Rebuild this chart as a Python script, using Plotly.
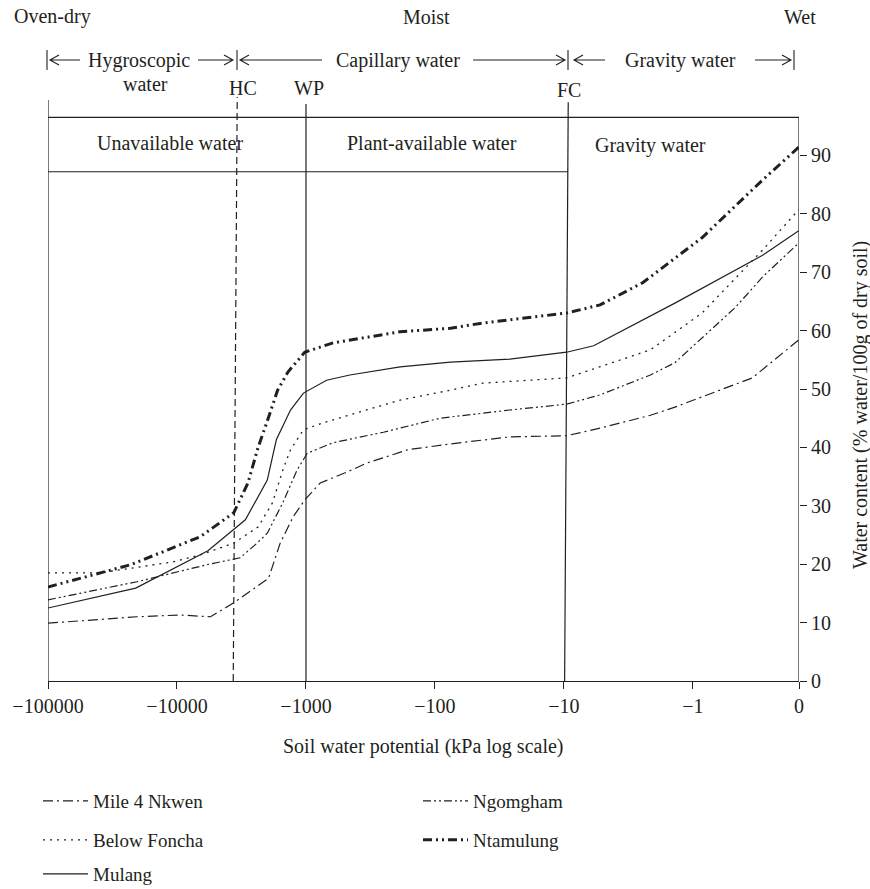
import plotly.graph_objects as go

# ---------------- data ----------------
# x positions are measured along the potential axis in decades:
# 0 = -100000 kPa, 1 = -10000, 2 = -1000, 3 = -100, 4 = -10, 5 = -1, 5.822 = 0
tick_pos = [0, 1, 2, 3, 4, 5, 5.822]
tick_text = ["−100000", "−10000", "−1000", "−100", "−10", "−1", "0"]
y_ticks = [0, 10, 20, 30, 40, 50, 60, 70, 80, 90]

mile4_x = [0, 0.69, 1.02, 1.26, 1.44, 1.71, 1.80, 1.90, 1.99, 2.11, 2.32, 2.47, 2.79, 3.12, 3.58, 4.02, 4.28, 4.67, 4.86, 5.46, 5.82]
mile4_y = [9.9, 11.0, 11.3, 11.0, 13.4, 17.6, 23.6, 28.1, 31.0, 33.9, 35.8, 37.3, 39.6, 40.6, 41.8, 42.0, 43.3, 45.5, 46.9, 51.9, 58.4]

ngom_x = [0, 0.69, 1.23, 1.49, 1.62, 1.70, 1.82, 1.93, 2.01, 2.21, 2.60, 3.04, 3.58, 4.02, 4.28, 4.67, 4.86, 5.33, 5.54, 5.82]
ngom_y = [13.9, 17.0, 19.9, 21.1, 23.6, 25.3, 30.5, 36.1, 39.0, 40.8, 42.6, 45.0, 46.4, 47.4, 49.0, 52.4, 54.5, 64.0, 69.2, 75.0]

foncha_x = [0, 0.40, 0.97, 1.18, 1.44, 1.63, 1.74, 1.82, 1.88, 1.98, 2.13, 2.47, 2.73, 3.12, 3.37, 4.02, 4.28, 4.67, 5.07, 5.54, 5.82]
foncha_y = [18.5, 18.5, 20.4, 21.6, 23.6, 26.4, 30.5, 36.1, 39.6, 43.0, 44.2, 46.4, 48.1, 49.8, 51.0, 51.9, 53.8, 56.7, 63.0, 73.8, 80.7]

ntam_x = [0, 0.64, 1.18, 1.44, 1.55, 1.63, 1.70, 1.78, 1.86, 1.99, 2.21, 2.47, 2.73, 3.12, 3.37, 4.02, 4.28, 4.61, 5.07, 5.54, 5.82]
ntam_y = [16.1, 19.9, 24.7, 28.8, 33.9, 40.1, 44.5, 49.8, 52.9, 56.3, 57.9, 58.9, 59.8, 60.4, 61.3, 63.0, 64.4, 68.2, 75.9, 85.8, 91.4]

mulang_x = [0, 0.68, 1.24, 1.53, 1.70, 1.77, 1.88, 1.98, 2.16, 2.34, 2.73, 3.12, 3.58, 4.02, 4.23, 4.86, 5.54, 5.82]
mulang_y = [12.5, 15.9, 22.3, 27.6, 34.4, 41.3, 46.4, 49.3, 51.5, 52.4, 53.8, 54.6, 55.1, 56.3, 57.4, 64.7, 72.9, 77.1]

# reference lines (x positions in the same decade units)
hc_x = (1.436, 1.467)
wp_x = 2.0
fc_x = (4.005, 4.033)

# ---------------- layout helpers ----------------
W, H = 870, 889
L, R, T, B = 48, 71, 97, 208
XMAX, YMAX = 5.822, 100
PW, PH = W - L - R, H - T - B
INK = "#231f20"
FONT = "Liberation Serif"


def px2p(px):
    return (px - L) / PW


def py2p(py):
    return (H - B - py) / PH


series = [
    ("Mile 4 Nkwen", mile4_x, mile4_y, dict(width=1.2, dash="10px,4px,2px,4px"), "legend", 38, 801),
    ("Ngomgham", ngom_x, ngom_y, dict(width=1.2, dash="8px,3px,2px,3px,2px,3px"), "legend2", 418, 801),
    ("Below Foncha", foncha_x, foncha_y, dict(width=1.3, dash="2px,5px"), "legend3", 38, 840),
    ("Ntamulung", ntam_x, ntam_y, dict(width=3, dash="9px,4px,2px,4px,2px,4px"), "legend4", 418, 840),
    ("Mulang", mulang_x, mulang_y, dict(width=1.2, dash="solid"), "legend5", 38, 874),
]

fig = go.Figure()
legends = {}
for name, xs, ys, ln, lg, lx, ly in series:
    fig.add_trace(go.Scatter(x=xs, y=ys, mode="lines", name=name,
                             line=dict(color=INK, **ln), legend=lg))
    legends[lg] = dict(x=px2p(lx), y=py2p(ly), xanchor="left", yanchor="middle",
                       bgcolor="rgba(0,0,0,0)", itemwidth=45,
                       font=dict(family=FONT, size=19, color=INK))

line = dict(color=INK, width=1.2)
shapes = [
    # left border and reference vertical lines
    dict(type="line", xref="x", yref="y", x0=0, x1=0, y0=0, y1=99.5, line=line),
    dict(type="line", xref="x", yref="y", x0=hc_x[0], x1=hc_x[1], y0=0, y1=100,
         line=dict(color=INK, width=1.2, dash="7px,4px")),
    dict(type="line", xref="x", yref="y", x0=wp_x, x1=wp_x, y0=0, y1=98.8, line=line),
    dict(type="line", xref="x", yref="y", x0=fc_x[0], x1=fc_x[1], y0=0, y1=99.1, line=line),
    dict(type="line", xref="x", yref="y", x0=XMAX, x1=XMAX, y0=0, y1=96.5, line=line),
    # box lines
    dict(type="line", xref="x", yref="y", x0=0, x1=XMAX, y0=96.5, y1=96.5, line=line),
    dict(type="line", xref="x", yref="y", x0=0, x1=fc_x[1], y0=87.2, y1=87.2, line=line),
]

# row of arrows above the chart (pixel paths anchored on the plot's left edge)
row_py = 60
arrows = [(80, 50), (198, 233), (322, 240), (473, 565), (605, 574), (755, 791)]
bars = [47, 237, 568, 794]
path = ""
for t, h in arrows:
    d = 1 if h > t else -1
    a, b = t - L, h - L
    path += f"M{a},0 L{b},0 M{b - d * 9},5 L{b},0 L{b - d * 9},-5 "
for bx in bars:
    path += f"M{bx - L},-10 L{bx - L},10 "
shapes.append(dict(type="path", path=path.strip(), xref="paper", yref="paper",
                   xsizemode="pixel", ysizemode="pixel", xanchor=0, yanchor=py2p(row_py),
                   line=dict(color=INK, width=1.1), fillcolor="rgba(0,0,0,0)"))

texts = [
    ("Oven-dry", 52, 17), ("Moist", 426, 17), ("Wet", 800, 17),
    ("Hygroscopic", 139, row_py), ("water", 145, 84),
    ("Capillary water", 398, row_py), ("Gravity water", 680, row_py),
    ("HC", 243, 88), ("WP", 309, 88), ("FC", 569, 90),
    ("Unavailable water", 170, 143), ("Plant-available water", 432, 143),
    ("Gravity water", 650, 145),
    ("Soil water potential (kPa log scale)", 423, 747),
]
annotations = [dict(text=t, x=px2p(x), y=py2p(y), xref="paper", yref="paper",
                    xanchor="center", yanchor="middle", showarrow=False,
                    font=dict(family=FONT, size=20, color=INK)) for t, x, y in texts]
annotations.append(dict(text="Water content (% water/100g of dry soil)", x=px2p(860), y=py2p(405),
                        xref="paper", yref="paper", xanchor="center", yanchor="middle",
                        textangle=-90, showarrow=False,
                        font=dict(family=FONT, size=20, color=INK)))

fig.update_layout(
    width=W, height=H,
    margin=dict(l=L, r=R, t=T, b=B, pad=0, autoexpand=False),
    paper_bgcolor="white", plot_bgcolor="white",
    font=dict(family=FONT, size=20, color=INK),
    xaxis=dict(range=[0, XMAX], tickvals=tick_pos, ticktext=tick_text,
               ticks="outside", ticklen=7, tickwidth=1.2, tickcolor=INK,
               showline=True, linecolor=INK, linewidth=1.2,
               showgrid=False, zeroline=False,
               tickfont=dict(family=FONT, size=20, color=INK)),
    yaxis=dict(range=[0, YMAX], side="right", tickvals=y_ticks,
               ticks="outside", ticklen=7, tickwidth=1.2, tickcolor=INK,
               showline=False, showgrid=False, zeroline=False,
               tickfont=dict(family=FONT, size=20, color=INK)),
    shapes=shapes,
    annotations=annotations,
    showlegend=True,
    **legends,
)

fig.write_html("out.html")
